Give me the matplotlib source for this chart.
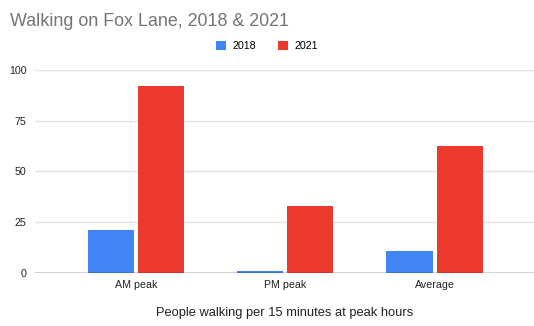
import matplotlib
matplotlib.use("Agg")
import matplotlib.pyplot as plt
import numpy as np

plt.rcParams['font.family'] = ['Liberation Sans', 'DejaVu Sans']

categories = ['AM peak', 'PM peak', 'Average']
series_names = ['2018', '2021']
walk_2018 = [21, 1, 11]
walk_2021 = [92, 33, 62.5]
y_ticks = [0, 25, 50, 75, 100]

blue = '#4285f4'
red = '#ee3a2e'

fig = plt.figure(figsize=(5.34, 3.26), dpi=100)
ax = fig.add_axes([0.0655, 0.1626, 0.9345, 0.6227])

x = np.arange(len(categories))
w = 0.31
gap = 0.013
ax.bar(x - w / 2 - gap, walk_2018, w, color=blue, label=series_names[0], zorder=3)
ax.bar(x + w / 2 + gap, walk_2021, w, color=red, label=series_names[1], zorder=3)

ax.set_xlim(-0.675, 2.665)
ax.set_ylim(0, 100)
ax.set_yticks(y_ticks)
ax.set_yticklabels([str(t) for t in y_ticks])
ax.set_xticks(x)
ax.set_xticklabels(categories)
ax.tick_params(axis='both', length=0, labelsize=7.7, colors='#222222')
ax.tick_params(axis='y', pad=6)
ax.tick_params(axis='x', pad=5)

ax.grid(axis='y', color='#e2e2e2', linewidth=1, zorder=0)
ax.axhline(0, color='#333333', linewidth=1, zorder=4)
for s in ax.spines.values():
    s.set_visible(False)

ax.set_xlabel('People walking per 15 minutes at peak hours', fontsize=9.3, color='#222222', labelpad=12)

fig.text(0.019, 0.935, 'Walking on Fox Lane, 2018 & 2021', fontsize=12.9, color='#757575', va='center')

fig.legend(loc='center', bbox_to_anchor=(0.5, 0.858), ncol=2, frameon=False, fontsize=7.7,
           handlelength=0.9, handleheight=0.9, handletextpad=0.6, columnspacing=2.1)

fig.savefig('out.png', dpi=100)
